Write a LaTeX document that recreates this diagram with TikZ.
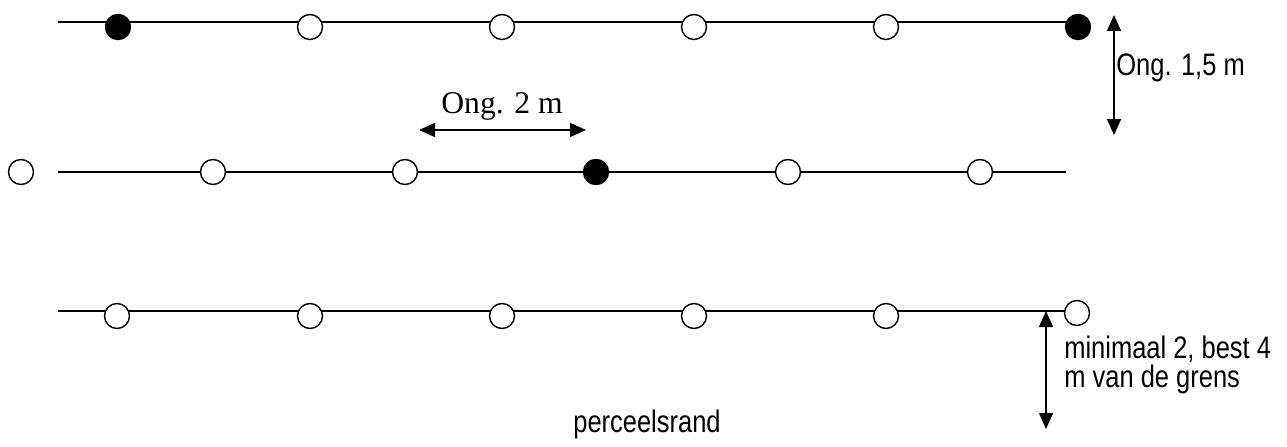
\documentclass[tikz,border=0pt]{standalone}
\usepackage{fontspec}
\setmainfont{Liberation Sans}
\newfontfamily\serifnote{Liberation Serif}
\usetikzlibrary{arrows.meta}

\tikzset{
  plant/.style={circle,draw,fill=white,line width=0.8pt,minimum size=0.5cm,inner sep=0pt},
  tree/.style={plant,fill=black},
  row/.style={line width=0.8pt},
  measure/.style={line width=0.8pt,{Triangle[length=0.32cm,width=0.28cm]}-{Triangle[length=0.32cm,width=0.28cm]}},
  note/.style={inner sep=0pt,yscale=1.22,transform shape,font=\fontsize{14.5pt}{12.2pt}\selectfont}
}

\begin{document}
\begin{tikzpicture}[x=0.02cm,y=-0.02cm]
\useasboundingbox (0,0) rectangle (1287,446);

% rows
\coordinate (rowAstart) at (58,22);
\coordinate (rowAend) at (1067,22);
\coordinate (rowBstart) at (58,172);
\coordinate (rowBend) at (1066,172);
\coordinate (rowCstart) at (58,311);
\coordinate (rowCend) at (1065,311);
\draw[row] (rowAstart) -- (rowAend);
\draw[row] (rowBstart) -- (rowBend);
\draw[row] (rowCstart) -- (rowCend);

% top row
\foreach \i in {1,...,4}
  \node[plant] (a\i) at (118+192*\i,27) {};
\node[tree] (a0) at (118,27) {};
\node[tree] (a5) at (1078,27) {};

% middle row
\node[plant] (b0) at (21,172) {};
\foreach \i/\x in {1/213,2/405,4/788,5/980}
  \node[plant] (b\i) at (\x,172) {};
\node[tree] (b3) at (596,172) {};

% bottom row
\foreach \i/\x in {0/117,1/310,2/502,3/694,4/886}
  \node[plant] (c\i) at (\x,316) {};
\node[plant] (c5) at (1077,313) {};

% distances
\coordinate (rowtop) at (1114,15);
\coordinate (rowbot) at (1114,135);
\draw[measure] (rowtop) -- (rowbot);
\path (1116,68) node[note,anchor=west] (rowdist) {Ong. 1,5 m};

\coordinate (plantleft) at (419,130);
\coordinate (plantright) at (586,130);
\draw[measure] (plantleft) -- (plantright);
\path (502,106) node[inner sep=0pt,font=\serifnote\fontsize{18pt}{18pt}\selectfont] (plantdist) {Ong. 2 m};

\coordinate (edgetop) at (1046,311);
\coordinate (edgebot) at (1046,429);
\draw[measure] (edgetop) -- (edgebot);
\path (1064,365) node[note,anchor=west,align=left] (edgedist) {minimaal 2, best 4\\m van de grens};

\path (647,424) node[note] (border) {perceelsrand};
\end{tikzpicture}
\end{document}
